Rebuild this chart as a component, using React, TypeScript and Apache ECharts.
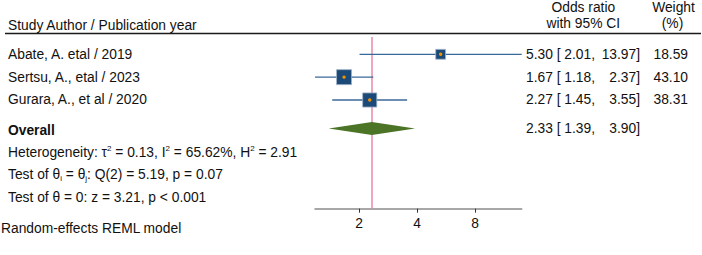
import React, { useEffect, useRef } from "react";
import * as echarts from "echarts";

// ---- data ----
const studies = ["Abate, A. etal / 2019", "Sertsu, A., etal / 2023", "Gurara, A., et al / 2020"];
const oddsRatio = [5.3, 1.67, 2.27];
const ciLower = [2.01, 1.18, 1.45];
const ciUpper = [13.97, 2.37, 3.55];
const weights = [18.59, 43.1, 38.31];
const studyRows = [1, 2, 3];

const overallLabel = "Overall";
const overallOR = [2.33];
const overallLower = [1.39];
const overallUpper = [3.9];
const overallRow = [4.25];

const xTickValues = [2, 4, 8];
const xRange = [1.18, 13.97];

const FONT = '"Liberation Sans", Arial, Helvetica, sans-serif';
const FS = 13.8;
const TXT = "#111111";

const log2 = (v: number) => Math.log(v) / Math.LN2;
const f2 = (v: number) => v.toFixed(2);

export default function App() {
  const ref = useRef<HTMLDivElement>(null);
  useEffect(() => {
    if (!ref.current) return;
    const chart = echarts.init(ref.current, null, { renderer: "svg" });

    const studyData = studies.map((_, i) => [
      log2(oddsRatio[i]),
      log2(ciLower[i]),
      log2(ciUpper[i]),
      studyRows[i],
      weights[i],
    ]);
    const overallData = overallOR.map((v, i) => [
      log2(v),
      log2(overallLower[i]),
      log2(overallUpper[i]),
      overallRow[i],
    ]);

    const textStyle = (text: string, align: string, extra: any = {}) => ({
      text,
      fill: TXT,
      fontSize: FS,
      fontFamily: FONT,
      align,
      verticalAlign: "middle",
      ...extra,
    });

    const option: any = {
      animation: false,
      grid: {
        left: 315,
        right: 180.3,
        top: 37,
        bottom: 46.3,
        containLabel: false,
        outerBoundsMode: "none",
      },
      xAxis: {
        type: "value",
        min: log2(xRange[0]),
        max: log2(xRange[1]),
        splitLine: { show: false },
        axisLine: { show: true, onZero: false, lineStyle: { color: "#8a8a8a", width: 1.5 } },
        axisTick: {
          show: true,
          customValues: xTickValues.map(log2),
          length: 4,
          lineStyle: { color: "#333", width: 1 },
        },
        axisLabel: {
          customValues: xTickValues.map(log2),
          formatter: (v: number) => String(Math.round(Math.pow(2, v))),
          color: TXT,
          fontSize: FS,
          fontFamily: FONT,
          margin: 8,
        },
      },
      yAxis: {
        type: "value",
        inverse: true,
        min: 0.243,
        max: 7.757,
        show: false,
      },
      series: [
        {
          type: "line",
          data: [],
          z: 1,
          markLine: {
            silent: true,
            z: 1,
            symbol: ["none", "none"],
            label: { show: false },
            lineStyle: { color: "#e68aa8", width: 1.5, type: "solid" },
            data: [{ xAxis: log2(overallOR[0]) }],
          },
        },
        {
          type: "custom",
          z: 3,
          clip: false,
          data: studyData,
          renderItem: (params: any, api: any) => {
            const i = params.dataIndex;
            const c = api.coord([api.value(0), api.value(3)]);
            const lo = api.coord([api.value(1), api.value(3)]);
            const hi = api.coord([api.value(2), api.value(3)]);
            const side = 2.285 * Math.sqrt(api.value(4));
            const y = c[1];
            return {
              type: "group",
              children: [
                {
                  type: "line",
                  shape: { x1: lo[0], y1: y, x2: hi[0], y2: y },
                  style: { stroke: "#3a6898", lineWidth: 1.3 },
                },
                {
                  type: "rect",
                  shape: { x: c[0] - side / 2, y: y - side / 2, width: side, height: side },
                  style: { fill: "#1b4a78", stroke: "#9fb2c8", lineWidth: 0.8 },
                },
                {
                  type: "circle",
                  shape: { cx: c[0], cy: y, r: 1.7 },
                  style: { fill: "#f29100" },
                },
                { type: "text", x: 8, y, style: textStyle(studies[i], "left") },
                {
                  type: "text",
                  x: 526,
                  y,
                  style: textStyle(`${f2(oddsRatio[i])} [ ${f2(ciLower[i])},`, "left"),
                },
                { type: "text", x: 640, y, style: textStyle(`${f2(ciUpper[i])}]`, "right") },
                { type: "text", x: 688, y, style: textStyle(f2(weights[i]), "right") },
              ],
            };
          },
        },
        {
          type: "custom",
          z: 3,
          clip: false,
          data: overallData,
          renderItem: (params: any, api: any) => {
            const i = params.dataIndex;
            const c = api.coord([api.value(0), api.value(3)]);
            const lo = api.coord([api.value(1), api.value(3)]);
            const hi = api.coord([api.value(2), api.value(3)]);
            const y = c[1];
            const h = 6.5;
            return {
              type: "group",
              children: [
                {
                  type: "polygon",
                  shape: {
                    points: [
                      [lo[0], y],
                      [c[0], y - h],
                      [hi[0], y],
                      [c[0], y + h],
                    ],
                  },
                  style: { fill: "#4b7426" },
                },
                {
                  type: "text",
                  x: 8,
                  y: y + 1.5,
                  style: textStyle(overallLabel, "left", { fontWeight: "bold" }),
                },
                {
                  type: "text",
                  x: 526,
                  y,
                  style: textStyle(`${f2(overallOR[i])} [ ${f2(overallLower[i])},`, "left"),
                },
                { type: "text", x: 640, y, style: textStyle(`${f2(overallUpper[i])}]`, "right") },
              ],
            };
          },
        },
      ],
      graphic: [
        { type: "text", x: 8, y: 25, style: textStyle("Study Author / Publication year", "left") },
        { type: "text", x: 583.3, y: 7, style: textStyle("Odds ratio", "center") },
        { type: "text", x: 583.3, y: 23.5, style: textStyle("with 95% CI", "center") },
        { type: "text", x: 673.5, y: 7, style: textStyle("Weight", "center") },
        { type: "text", x: 672.5, y: 23.5, style: textStyle("(%)", "center") },
        {
          type: "line",
          shape: { x1: 5, y1: 33.5, x2: 701, y2: 33.5 },
          style: { stroke: "#1a1a1a", lineWidth: 1.5 },
        },
        {
          type: "text",
          x: 8,
          y: 152,
          style: {
            text: "Heterogeneity: τ{sup|2} = 0.13, I{sup|2} = 65.62%, H{sup|2} = 2.91",
            fill: TXT,
            fontSize: FS,
            fontFamily: FONT,
            align: "left",
            verticalAlign: "middle",
            lineHeight: 16,
            rich: {
              sup: { fontSize: 8, fontFamily: FONT, fill: TXT, verticalAlign: "top", lineHeight: 16, padding: [0, 0, 6, 0] },
            },
          },
        },
        {
          type: "text",
          x: 8,
          y: 174,
          style: {
            text: "Test of θ{sub|i} = θ{sub|j}: Q(2) = 5.19, p = 0.07",
            fill: TXT,
            fontSize: FS,
            fontFamily: FONT,
            align: "left",
            verticalAlign: "middle",
            lineHeight: 16,
            rich: {
              sub: { fontSize: 8, fontFamily: FONT, fill: TXT, verticalAlign: "bottom", lineHeight: 16 },
            },
          },
        },
        { type: "text", x: 8, y: 197, style: textStyle("Test of θ = 0: z = 3.21, p < 0.001", "left") },
        { type: "text", x: 1, y: 228, style: textStyle("Random-effects REML model", "left") },
      ],
    };

    chart.setOption(option);
    return () => chart.dispose();
  }, []);

  return (
    <div
      ref={ref}
      style={{ position: "fixed", left: 0, top: 0, width: 702, height: 255, background: "#fff" }}
    />
  );
}
